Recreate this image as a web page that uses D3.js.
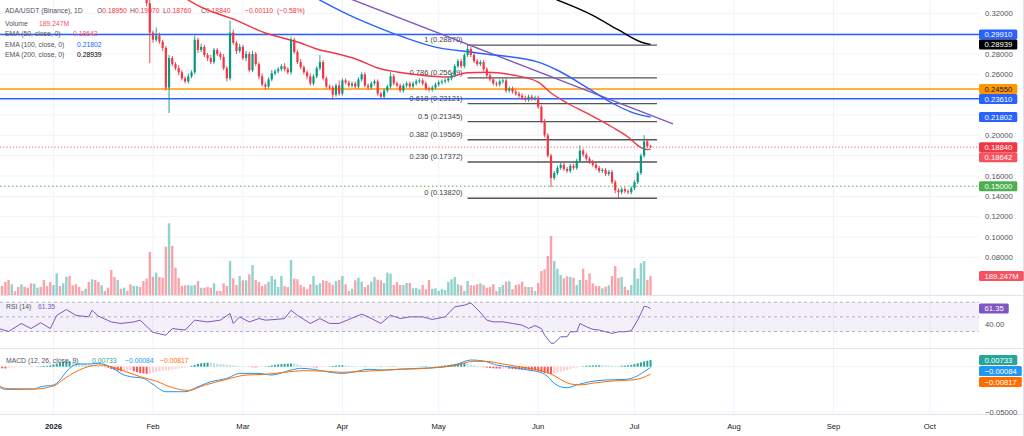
<!DOCTYPE html>
<html><head><meta charset="utf-8">
<script src="https://cdn.jsdelivr.net/npm/d3@7"></script>
<style>
html,body{margin:0;padding:0;background:#fff;overflow:hidden;}
svg{display:block;font-family:"Liberation Sans",Arial,sans-serif;}
</style></head><body>
<svg id="c" width="1024" height="436"></svg>
<script>
// ===================== DATA =====================
// Daily candles ADA/USDT, first candle 2025-12-15 (day -17 relative to 2026-01-01)
const startOffset = -17;
const firstOpen = 378;               // thousandths of USDT
// closes, thousandths of USDT (rows of 10 days)
const closes = [
 372,368,362,355,360,358,352,357,354,350,
 346,352,356,352,347,343,340,350,372,368,
 378,392,385,380,376,372,371,375,369,380,
 374,368,371,369,365,352,345,349,346,349,
 347,343,347,350,346,339,330,301,294,298,
 292,286,247,276,270,266,262,256,253,258,
 262,294,284,287,279,276,272,284,280,277,
 266,256,301,291,283,287,276,280,264,280,
 270,258,250,248,255,261,263,265,268,265,
 262,294,282,272,267,262,258,251,258,266,
 272,256,248,247,240,249,241,254,252,249,
 251,248,255,260,249,247,251,253,241,238,
 244,248,258,251,249,244,249,251,248,251,
 253,254,251,246,245,247,250,252,253,254,
 256,259,268,273,268,279,285,279,273,270,
 272,265,259,255,251,250,253,254,244,246,
 243,241,239,237,235,238,236,237,228,214,
 200,180,158,163,168,171,167,165,170,168,
 175,185,181,177,174,171,168,165,166,162,
 164,154,146,144,147,145,144,148,154,163,
 180,194,189.5,188.4];
// upper wick length above body top, thousandths
const wickUp = [
 3,2,2,3,2,2,3,2,2,2, 3,2,2,2,3,2,2,4,3,2, 3,4,2,3,2,2,3,2,2,3, 2,2,3,2,2,3,2,2,3,2,
 2,2,3,2,2,3,3,3,2,8, 3,2,2,3,2,2,3,2,2,3, 2,4,2,3,2,2,3,2,2,2, 3,2,12,3,2,3,2,3,2,3,
 2,2,3,2,2,3,2,2,2,3, 2,3,2,2,3,2,2,3,2,2, 7,2,2,2,2,2,5,2,2,2, 2,2,2,2,2,2,2,2,2,2,
 2,2,4,2,2,2,2,2,2,2, 2,2,2,2,2,2,2,2,2,2, 2,2,2,2,2,2,3.7,2,2,2, 2,2,2,2,2,2,2,2,2,2,
 2,2,2,2,2,2,2,2,2,2, 2,2,2,2,2,2,2,2,2,2, 2,5,2,2,2,2,2,2,2,2, 2,2,2,2,2,2,2,2,2,2,
 2,6,2.5,1.2];
// lower wick length below body bottom, thousandths
const wickDn = [
 2,3,2,2,3,2,2,3,2,2, 2,3,2,2,2,3,4,2,2,3, 2,2,3,2,2,3,2,2,3,2, 2,3,2,2,3,2,3,2,2,3,
 2,3,2,2,3,2,3,30,3,2, 2,3,3,25,2,2,3,2,2,2, 2,2,3,2,2,3,2,2,2,3, 2,3,2,2,3,2,2,3,2,2,
 2,3,2,3,2,2,2,2,2,2, 2,2,2,2,2,2,3,2,2,2, 2,2,2,2,5,2,2,2,2,2, 2,2,2,2,2,2,2,2,2,2,
 2,2,2,2,2,2,2,2,2,2, 2,2,2,2,2,2,2,2,2,2, 2,2,2,2,2,2,2,2,2,2, 2,2,2,2,2,2,2,2,2,2,
 2,2,2,2,2,2,2,2,2,2, 2,2,9,2,2,2,2,2,2,2, 2,2,2,2,2,2,2,2,2,2, 2,2,3,5.8,2,2,2,2,2,2,
 2,2,2,0.8];
// daily volume, millions ADA
const volumes = [
 85,90,130,150,107,40,80,107,83,73,
 117,113,73,83,150,90,130,100,217,90,
 117,183,190,97,107,80,40,63,130,157,
 150,130,97,40,73,250,180,150,63,73,
 40,107,90,90,80,140,163,430,183,223,
 180,173,483,717,490,273,170,90,97,100,
 93,100,140,73,73,80,73,117,40,40,
 117,90,340,167,100,190,147,147,207,300,
 150,130,90,107,133,190,157,80,190,90,
 80,350,163,157,100,80,57,107,190,100,
 117,147,140,123,100,140,150,190,107,40,
 63,147,173,133,80,100,133,180,153,147,
 120,223,213,100,130,100,100,120,120,67,
 70,57,100,57,150,63,67,40,60,50,
 130,157,180,107,97,40,140,97,97,107,
 117,100,73,80,107,40,80,100,133,137,
 57,100,107,133,83,80,80,40,120,240,
 257,390,590,340,263,200,167,187,180,173,
 100,150,263,150,217,117,90,90,67,83,
 97,190,290,170,180,83,50,100,267,163,
 317,340,150,189.247];
// MACD histogram, units of 0.0001 (daily)
const macdHist = [
 -15,-18,-20,-15,-10,-8,-5,-4,-3,-2,
 -2,-1,3,5,8,10,15,25,35,45,
 55,60,62,58,50,42,35,30,25,20,
 15,10,5,-5,-12,-25,-35,-45,-50,-48,
 -45,-40,-50,-60,-70,-75,-78,-72,-65,-55,
 -50,-45,-40,-35,-30,-25,-20,-15,-10,-5,
 10,20,30,38,42,45,42,38,32,28,
 25,22,18,14,10,7,4,2,-3,-6,
 -8,-5,-2,3,8,14,20,25,28,30,
 32,35,33,25,15,8,3,-3,-6,-8,
 -6,-4,-2,3,8,12,15,16,15,12,
 8,5,3,2,4,3,1,-1,-3,-4,
 -2,1,3,4,3,2,1,-1,-2,-1,
 1,2,3,5,4,3,4,6,10,15,
 20,25,30,35,38,40,35,25,15,8,
 3,-5,-10,-15,-18,-20,-22,-20,-18,-22,
 -25,-28,-30,-32,-35,-35,-38,-40,-50,-60,
 -70,-75,-80,-72,-65,-55,-45,-35,-25,-15,
 -8,-2,5,10,12,14,15,16,15,14,
 12,10,8,7,10,12,15,20,28,38,
 48,58,66,73.3];
// sampled indicator readings: [days after 2026-01-01, value]
const ema50Pts = [[36,0.345],[46,0.326],[57,0.313],[66,0.3006],[76,0.2918],[83,0.2839],[86,0.2819],[95,0.2741],[101,0.2662],[107,0.2623],[114,0.2593],[123,0.2573],[129,0.2615],[135,0.2620],[143,0.2593],[151,0.2524],[155,0.2416],[160,0.2318],[166,0.2220],[174,0.2082],[179,0.1984],[183,0.1880],[185,0.1860],[186,0.18642]];
const ema100Pts = [[73,0.352],[83,0.333],[91,0.320],[98,0.310],[106,0.300],[118,0.2875],[132,0.281],[151,0.272],[157,0.264],[166,0.2474],[174,0.2318],[180,0.2229],[186,0.21802]];
const ema200Pts = [[146,0.345],[157,0.333],[168,0.318],[176,0.3036],[183,0.2918],[186,0.28939]];
const trendPts = [[85,0.3433],[193,0.2113]];
const rsiPts = [[-17,34],[-14,30],[-10,41],[-7,34],[-4,42],[-1,34],[1,52],[4,60],[7,52],[11,50],[12,59],[14,51],[18,43],[21,41],[25,43],[27,45.5],[31,28.7],[35,25],[37,34],[41,32],[44,45.5],[48,43],[52,45.5],[55,54.6],[56,41],[58,50],[61,43],[64,47.7],[66,45.5],[69,46.4],[72,47.7],[74,59],[76,52],[80,41],[83,47.7],[86,41],[89,41],[92,46.4],[96,53.7],[98,50],[102,41],[105,52.3],[108,47.7],[111,50],[115,50],[118,46.4],[122,50],[125,63.6],[128,66],[130,69],[133,56],[135,45.5],[137,43.2],[140,43.2],[143,41],[146,38.7],[148,34.2],[150,38],[152,34],[153,25],[155,14],[156,14],[158,22.8],[160,22.8],[161,29.6],[163,29.6],[164,41],[166,36.5],[168,33],[170,32],[172,29.6],[174,27.4],[176,29.6],[178,29.6],[180,31],[182,45.5],[183,54.6],[184,64.6],[185,63.6],[186,61.35]];
const macdPts = [[-17,-0.0221],[-15,-0.0250],[-10,-0.0250],[-6,-0.0246],[-4,-0.0221],[0,-0.0202],[2,-0.0147],[4,-0.0055],[6,0.0008],[8,0.0030],[11,0.0030],[14,0.0037],[18,-0.0007],[22,-0.0092],[24,-0.0110],[28,-0.0129],[31,-0.0195],[35,-0.0276],[41,-0.0276],[45,-0.0221],[49,-0.0166],[54,-0.0129],[58,-0.0074],[64,-0.0074],[68,-0.0092],[74,-0.0037],[77,-0.0018],[81,-0.0029],[87,-0.0066],[90,-0.0074],[94,-0.0055],[98,-0.0029],[103,-0.0037],[108,-0.0026],[114,-0.0018],[120,-0.0007],[125,0.0019],[130,0.0074],[134,0.0063],[138,0.0019],[143,-0.0007],[148,-0.0037],[152,-0.0066],[154,-0.0110],[156,-0.0184],[158,-0.0221],[160,-0.0232],[163,-0.0202],[167,-0.0166],[172,-0.0147],[178,-0.0140],[181,-0.0117],[184,-0.0055],[186,-0.00084]];
const signalPts = [[-17,-0.0213],[-14,-0.0243],[-6,-0.0246],[0,-0.0213],[4,-0.0117],[8,-0.0037],[14,0.0019],[17,0.0008],[22,-0.0048],[27,-0.0110],[32,-0.0160],[37,-0.0230],[42,-0.0262],[47,-0.0205],[54,-0.0139],[60,-0.0092],[66,-0.0084],[72,-0.0062],[78,-0.0044],[84,-0.0048],[90,-0.0062],[98,-0.0048],[108,-0.0030],[118,-0.0014],[125,0.0012],[131,0.0060],[135,0.0058],[140,0.0030],[145,0.0000],[150,-0.0029],[155,-0.0080],[158,-0.0140],[161,-0.0190],[164,-0.0200],[169,-0.0177],[174,-0.0158],[180,-0.0147],[183,-0.0129],[186,-0.00817]];
// drawings
const hLevels = [0.2991, 0.2455, 0.2361];
const supportLevel = 0.15;
const fibStartDay = 129, fibEndDay = 188;
const fibLevels = [1, 0.786, 0.618, 0.5, 0.382, 0.236, 0];
const fibPrices = [0.28870, 0.25649, 0.23121, 0.21345, 0.19569, 0.17372, 0.13820];
const priceTicks = [0.08,0.10,0.12,0.14,0.16,0.18,0.20,0.22,0.24,0.26,0.28,0.30,0.32];
const rsiTicks = [40, 60];
const macdTicks = [-0.05, 0];
const monthLabels = ["2026","Feb","Mar","Apr","May","Jun","Jul","Aug","Sep","Oct"];

// ===================== STYLE =====================
const C = {red:"#f23645", green:"#089981", grid:"#f0f3fa", text:"#131722", gray:"#50535e",
  blue:"#2962ff", orange:"#ff9800", black:"#000000", purple:"#7e57c2"};
const plotR = 979;
const hLevelColors = [C.blue, C.orange, C.blue];

// ===================== SCALES =====================
const jan1 = Date.UTC(2026,0,1), DAY = 864e5;
const dOff = d => new Date(jan1 + d*DAY);
const x = d3.scaleUtc().domain([dOff(0), dOff(273)]).range([53.5, 929.8]);
const yP = d3.scaleLinear().domain([0.12, 0.32]).range([216.7, 13.3]);
const yV = d3.scaleLinear().domain([0, 100]).range([295, 285]);
const yR = d3.scaleLinear().domain([30, 70]).range([331.5, 302.2]);
const yM = d3.scaleLinear().domain([-0.05, 0]).range([412, 366.7]);

const candles = closes.map((c,k)=>{
  const o = k ? closes[k-1] : firstOpen;
  const hi = Math.max(o,c) + wickUp[k], lo = Math.min(o,c) - wickDn[k];
  return {d: dOff(startOffset+k), o:o/1000, c:c/1000, h:hi/1000, l:lo/1000, v:volumes[k], hist:macdHist[k]/1e4, up: c>=o};
});
const last = candles[candles.length-1], prev = candles[candles.length-2];

const svg = d3.select("#c");
const defs = svg.append("defs");
function clip(id,y0,y1){defs.append("clipPath").attr("id",id).append("rect").attr("x",0).attr("y",y0).attr("width",plotR).attr("height",y1-y0);}
clip("cm",0,295); clip("cr",296,348); clip("cmd",349,413);

// grid
const months = d3.range(0,10).map(m=>new Date(Date.UTC(2026,m,1)));
svg.append("g").selectAll("line").data(months).join("line")
  .attr("x1",d=>x(d)).attr("x2",d=>x(d)).attr("y1",0).attr("y2",414)
  .attr("stroke",C.grid).attr("stroke-width",1);
svg.append("g").selectAll("line").data(priceTicks).join("line")
  .attr("x1",0).attr("x2",plotR).attr("y1",d=>yP(d)).attr("y2",d=>yP(d))
  .attr("stroke",C.grid).attr("stroke-width",1);
svg.append("g").selectAll("line").data(macdTicks).join("line")
  .attr("x1",0).attr("x2",plotR).attr("y1",d=>yM(d)).attr("y2",d=>yM(d))
  .attr("stroke",C.grid).attr("stroke-width",1);

// ---------- main pane ----------
const main = svg.append("g").attr("clip-path","url(#cm)");
// volume
main.append("g").selectAll("rect").data(candles).join("rect")
  .attr("x",d=>x(d.d)-1.2).attr("width",2.4)
  .attr("y",d=>yV(d.v)).attr("height",d=>yV(0)-yV(d.v))
  .attr("fill",d=>d.up?"rgba(38,166,154,0.5)":"rgba(242,54,69,0.45)");
// horizontal levels
main.append("g").selectAll("line").data(hLevels).join("line")
  .attr("x1",0).attr("x2",plotR).attr("y1",d=>yP(d)).attr("y2",d=>yP(d))
  .attr("stroke",(d,k)=>hLevelColors[k]).attr("stroke-width",1.5);
main.append("line").attr("x1",0).attr("x2",plotR).attr("y1",yP(supportLevel)).attr("y2",yP(supportLevel))
  .attr("stroke","#4caf50").attr("stroke-width",1).attr("stroke-dasharray","1.5,2.5");
main.append("line").attr("x1",0).attr("x2",plotR).attr("y1",yP(last.c)).attr("y2",yP(last.c))
  .attr("stroke",C.red).attr("stroke-width",0.8).attr("stroke-dasharray","1.2,2");
// fib
const fib = main.append("g");
fib.selectAll("line").data(fibPrices).join("line")
  .attr("x1",x(dOff(fibStartDay))).attr("x2",x(dOff(fibEndDay)))
  .attr("y1",d=>yP(d)).attr("y2",d=>yP(d)).attr("stroke","#555").attr("stroke-width",1.4);
fib.selectAll("text").data(fibPrices).join("text")
  .attr("x",x(dOff(fibStartDay))-5).attr("y",d=>yP(d)-3)
  .attr("text-anchor","end").attr("font-size",7.5).attr("fill","#444")
  .text((d,k)=>`${fibLevels[k]} (${d.toFixed(5)})`);
// EMAs + trend
const lineP = d3.line().x(d=>x(dOff(d[0]))).y(d=>yP(d[1])).curve(d3.curveMonotoneX);
main.append("path").attr("d",d3.line().x(d=>x(dOff(d[0]))).y(d=>yP(d[1]))(trendPts))
  .attr("fill","none").attr("stroke",C.purple).attr("stroke-width",1.4);
main.append("path").attr("d",lineP(ema200Pts)).attr("fill","none").attr("stroke",C.black).attr("stroke-width",1.4);
main.append("path").attr("d",lineP(ema100Pts)).attr("fill","none").attr("stroke",C.blue).attr("stroke-width",1.4);
main.append("path").attr("d",lineP(ema50Pts)).attr("fill","none").attr("stroke",C.red).attr("stroke-width",1.4);
// candles
const cg = main.append("g");
cg.selectAll("line").data(candles).join("line")
  .attr("x1",d=>x(d.d)).attr("x2",d=>x(d.d)).attr("y1",d=>yP(d.h)).attr("y2",d=>yP(d.l))
  .attr("stroke",d=>d.up?C.green:C.red).attr("stroke-width",0.9);
cg.selectAll("rect").data(candles).join("rect")
  .attr("x",d=>x(d.d)-1.1).attr("width",2.2)
  .attr("y",d=>yP(Math.max(d.o,d.c))).attr("height",d=>Math.max(0.8,Math.abs(yP(d.o)-yP(d.c))))
  .attr("fill",d=>d.up?C.green:C.red);

// ---------- RSI pane ----------
const rp = svg.append("g").attr("clip-path","url(#cr)");
rp.append("rect").attr("x",0).attr("width",plotR).attr("y",yR(70)).attr("height",yR(30)-yR(70)).attr("fill","rgba(126,87,194,0.09)");
rp.selectAll("line").data([70,50,30]).join("line")
  .attr("x1",0).attr("x2",plotR).attr("y1",d=>yR(d)).attr("y2",d=>yR(d))
  .attr("stroke","#a8abb5").attr("stroke-width",0.9).attr("stroke-dasharray","3,3");
rp.append("path").attr("d",d3.line().x(d=>x(dOff(d[0]))).y(d=>yR(d[1]))(rsiPts))
  .attr("fill","none").attr("stroke",C.purple).attr("stroke-width",1);

// ---------- MACD pane ----------
const mp = svg.append("g").attr("clip-path","url(#cmd)");
mp.append("g").selectAll("rect").data(candles).join("rect")
  .attr("x",d=>x(d.d)-1).attr("width",2)
  .attr("y",d=>Math.min(yM(d.hist),yM(0))).attr("height",d=>Math.abs(yM(d.hist)-yM(0)))
  .attr("fill",(d,k)=>{const p=k?candles[k-1].hist:d.hist;
     return d.hist>=0 ? (d.hist>=p?"#26a69a":"#b2dfdb") : (d.hist<=p?"#ff5252":"#ffcdd2");});
const lineM = d3.line().x(d=>x(dOff(d[0]))).y(d=>yM(d[1])).curve(d3.curveMonotoneX);
mp.append("path").attr("d",lineM(macdPts)).attr("fill","none").attr("stroke","#2196f3").attr("stroke-width",1);
mp.append("path").attr("d",lineM(signalPts)).attr("fill","none").attr("stroke","#ff6d00").attr("stroke-width",1);

// separators
svg.append("g").selectAll("line").data([295.5,348.5,414.5]).join("line")
  .attr("x1",0).attr("x2",1024).attr("y1",d=>d).attr("y2",d=>d).attr("stroke","#e0e3eb").attr("stroke-width",1);
svg.append("line").attr("x1",1023.5).attr("x2",1023.5).attr("y1",0).attr("y2",436).attr("stroke","#e0e3eb");

// ---------- legend ----------
const f5 = d3.format(".5f");
const lg = svg.append("g").attr("font-size",6.8);
function leg(xx,yy,parts){const t=lg.append("text").attr("x",xx).attr("y",yy);
  parts.forEach(([s,c])=>t.append("tspan").attr("fill",c).text(s));}
const chg = last.c - prev.c;
const lc = last.up ? C.green : C.red;
leg(5,13,[["ADA/USDT (Binance), 1D",C.gray]]);
leg(97,13,[["O",C.gray],[f5(last.o),lc]]);
leg(130,13,[["H",C.gray],[f5(last.h),lc]]);
leg(163,13,[["L",C.gray],[f5(last.l),lc]]);
leg(201,13,[["C",C.gray],[f5(last.c),lc]]);
leg(245,13,[[(chg<0?"\u2212":"+")+f5(Math.abs(chg)),lc]]);
leg(277,13,[[`(${chg<0?"\u2212":"+"}${(Math.abs(chg)/prev.c*100).toFixed(2)}%)`,lc]]);
leg(5,25.5,[["Volume",C.gray]]); leg(39,25.5,[[last.v.toFixed(3)+"M","#f7525f"]]);
leg(5,36,[["EMA (50, close, 0)",C.gray]]); leg(73,36,[[f5(ema50Pts[ema50Pts.length-1][1]),"#f7525f"]]);
leg(5,46.5,[["EMA (100, close, 0)",C.gray]]); leg(77,46.5,[[f5(ema100Pts[ema100Pts.length-1][1]),C.blue]]);
leg(5,57,[["EMA (200, close, 0)",C.gray]]); leg(77,57,[[f5(ema200Pts[ema200Pts.length-1][1]),C.black]]);
const rsiLast = rsiPts[rsiPts.length-1][1];
leg(6,309,[["RSI (14)",C.gray]]); leg(38,309,[[rsiLast.toFixed(2),C.purple]]);
const mLast = macdPts[macdPts.length-1][1], sLast = signalPts[signalPts.length-1][1], hLast = last.hist;
const fm = v => (v<0?"\u2212":"")+f5(Math.abs(v));
leg(6,362.5,[["MACD (12, 26, close, 9)",C.gray]]);
leg(92,362.5,[[fm(hLast),"#26a69a"]]); leg(125,362.5,[[fm(mLast),"#2196f3"]]); leg(160,362.5,[[fm(sLast),"#ff6d00"]]);

// ---------- right axis ----------
const ax = svg.append("g").attr("font-size",7.7);
function stack(tags,h){tags.sort((a,b)=>a.y-b.y);for(let k=1;k<tags.length;k++){if(tags[k].y-tags[k-1].y<h)tags[k].y=tags[k-1].y+h;}return tags;}
const mainTags = stack([
  {y:yP(hLevels[0]),t:f5(hLevels[0]),bg:C.blue,fg:"#fff"},
  {y:yP(ema200Pts[ema200Pts.length-1][1]),t:f5(ema200Pts[ema200Pts.length-1][1]),bg:"#000",fg:"#fff"},
  {y:yP(hLevels[1]),t:f5(hLevels[1]),bg:C.orange,fg:"#131722"},
  {y:yP(hLevels[2]),t:f5(hLevels[2]),bg:C.blue,fg:"#fff"},
  {y:yP(ema100Pts[ema100Pts.length-1][1]),t:f5(ema100Pts[ema100Pts.length-1][1]),bg:C.blue,fg:"#fff"},
  {y:yP(last.c),t:f5(last.c),bg:C.red,fg:"#fff"},
  {y:yP(ema50Pts[ema50Pts.length-1][1]),t:f5(ema50Pts[ema50Pts.length-1][1]),bg:"#f7525f",fg:"#fff"},
  {y:yP(supportLevel),t:f5(supportLevel),bg:"#4caf50",fg:"#fff"},
  {y:yV(last.v),t:last.v.toFixed(3)+"M",bg:"#f7525f",fg:"#fff"}
],10);
const rsiTags = [{y:yR(rsiLast),t:rsiLast.toFixed(2),bg:C.purple,fg:"#fff"}];
const macdTags = stack([
  {y:yM(hLast),t:fm(hLast),bg:"#26a69a",fg:"#fff"},
  {y:yM(mLast),t:fm(mLast),bg:"#2196f3",fg:"#fff"},
  {y:yM(sLast),t:fm(sLast),bg:"#ff6d00",fg:"#fff"}],11);
const allTags = mainTags.concat(rsiTags, macdTags);
function ticks(vals, sc, fmt){
  vals.forEach(v=>{const yy=sc(v); if(allTags.some(t=>Math.abs(t.y-yy)<9))return;
    ax.append("text").attr("x",985).attr("y",yy).attr("dy","0.35em").attr("fill","#50535e").text(fmt(v));});
}
ticks(priceTicks,yP,f5); ticks(rsiTicks,yR,v=>v.toFixed(2)); ticks(macdTicks,yM,fm);
allTags.forEach(tg=>{
  const g = ax.append("g");
  const r = g.append("rect").attr("x",979).attr("y",tg.y-5).attr("height",10).attr("rx",1.5).attr("fill",tg.bg);
  const t = g.append("text").attr("x",984.5).attr("y",tg.y).attr("dy","0.35em").attr("fill",tg.fg).text(tg.t);
  r.attr("width",t.node().getComputedTextLength()+10.5);
});

// ---------- time axis ----------
svg.append("g").attr("font-size",7.7).selectAll("text").data(months).join("text")
  .attr("x",d=>x(d)).attr("y",429).attr("text-anchor","middle").attr("fill",C.text)
  .attr("font-weight",(d,k)=>k===0?"bold":"normal").text((d,k)=>monthLabels[k]);
</script>
</body></html>
